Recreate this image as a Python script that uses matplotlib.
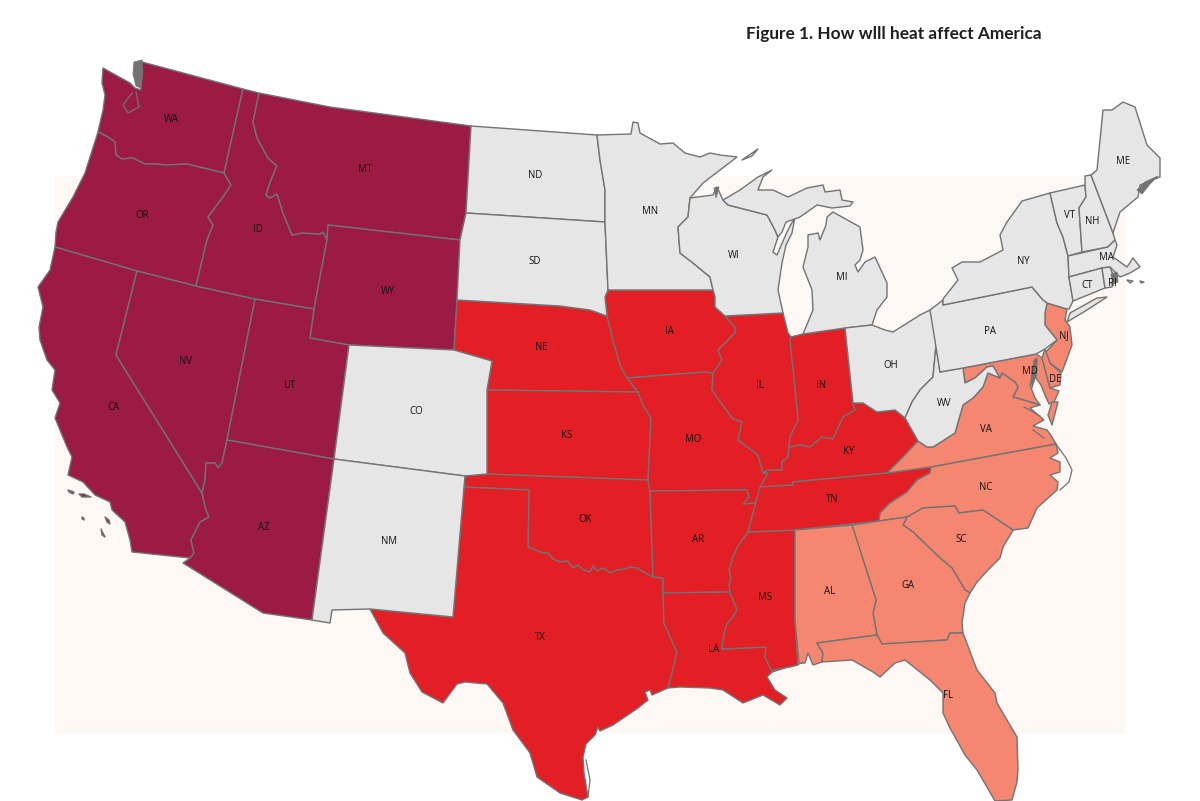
import matplotlib
matplotlib.use("Agg")
import matplotlib.pyplot as plt
from matplotlib.patches import Polygon, Rectangle

TITLE = "Figure 1. How wlll heat affect America"

# Heat impact groups
SEVERE = ["WA", "OR", "CA", "NV", "ID", "MT", "WY", "UT", "AZ"]
HIGH = ["NE", "KS", "OK", "TX", "IA", "MO", "AR", "LA", "MS", "IL", "IN", "KY", "TN"]
MODERATE = ["NJ", "MD", "DE", "VA", "NC", "SC", "GA", "AL", "FL"]
LOW = ["CO", "NM", "ND", "SD", "MN", "WI", "MI", "OH", "WV", "PA", "NY", "VT", "NH", "ME", "MA", "CT", "RI"]

# Borders shared by two states
RED_RIVER = [(528,547),(533,549),(543,553),(548,553),(553,559),(560,562),(567,561),(573,568),(578,565),(583,570),(590,572),(593,566),(597,571),(603,568),(610,573),(617,570),(625,569),(630,567),(637,568),(645,573),(653,577)]
MISS_AR_MS = [(748,532),(744,538),(742,540),(737,548),(733,557),(731,564),(729,570),(731,578),(729,585),(730,592)]
MISS_LA_MS = [(730,592),(733,600),(737,610),(733,617),(727,624),(725,630),(723,640),(722,649)]

# State outlines (map x, map y; one list per land part)
WA = [[(103,68),(102,83),(105,95),(103,110),(98,132),(108,137),(115,142),(116,155),(122,159),(133,158),(145,164),(155,164),(167,165),(187,164),(224,173),(243,89),(142,62),(139,72),(141,90),(135,88),(130,83)]]
OR = [[(98,132),(108,137),(115,142),(116,155),(122,159),(133,158),(145,164),(155,164),(167,165),(187,164),(224,173),(231,185),(223,197),(208,217),(213,225),(207,240),(196,286),(137,271),(55,247),(56,232),(58,222),(73,197),(85,173)]]
CA = [[(55,247),(137,271),(116,355),(202,493),(206,510),(209,517),(200,522),(191,540),(194,553),(190,558),(132,552),(130,540),(125,522),(112,510),(110,502),(95,495),(83,482),(68,475),(72,457),(67,447),(55,418),(60,403),(52,390),(55,370),(47,360),(40,340),(39,327),(43,307),(38,287),(50,270)],
      [(68,490),(74,492),(73,494),(69,492)],[(79,494),(84,494),(91,497),(82,497)],[(82,517),(84,518),(84,520),(82,519)],[(105,517),(109,520),(110,524),(107,522)],[(101,529),(104,535),(105,537),(102,535)]]
NV = [[(137,271),(196,286),(255,299),(227,440),(222,463),(218,468),(215,463),(206,463),(205,480),(202,493),(116,355)]]
ID = [[(243,89),(259,93),(253,122),(257,138),(268,158),(277,166),(271,180),(266,195),(270,198),(277,194),(283,213),(292,235),(302,233),(320,234),(323,232),(327,240),(314,309),(255,299),(196,286),(207,240),(213,225),(208,217),(223,197),(231,185),(224,173)]]
MT = [[(259,93),(330,107),(471,126),(466,213),(460,240),(328,225),(327,240),(323,232),(320,234),(302,233),(292,235),(283,213),(277,194),(270,198),(266,195),(271,180),(277,166),(268,158),(257,138),(253,122)]]
WY = [[(328,225),(460,240),(457,300),(454,350),(349,345),(310,338),(314,309),(327,240)]]
UT = [[(255,299),(314,309),(310,338),(349,345),(334,459),(227,440)]]
AZ = [[(227,440),(334,459),(312,620),(263,613),(183,563),(190,558),(194,553),(191,540),(200,522),(209,517),(206,510),(202,493),(205,480),(206,463),(215,463),(218,468),(222,463)]]
CO = [[(349,345),(454,350),(492,361),(487,390),(487,474),(465,476),(334,459)]]
NM = [[(334,459),(465,476),(464,487),(453,617),(370,609),(332,610),(330,623),(312,620)]]
ND = [[(471,126),(597,135),(600,160),(605,190),(605,222),(466,213)]]
SD = [[(466,213),(605,222),(608,290),(605,297),(607,316),(590,310),(560,306),(457,300),(460,240)]]
NE = [[(457,300),(560,306),(590,310),(607,316),(613,340),(620,365),(627,378),(638,392),(487,390),(492,361),(454,350)]]
KS = [[(487,390),(638,392),(643,405),(651,418),(648,480),(487,474)]]
OK = [[(465,476),(487,474),(648,480),(650,491),(653,577)] + RED_RIVER[::-1][1:] + [(529,490),(464,487)]]
TX = [[(464,487),(529,490)] + RED_RIVER + [(663,578),(663,593),(664,623),(670,637),(677,652),(672,673),(668,688),(652,695),(650,690),(645,692),(648,700),(638,708),(613,725),(600,731),(598,727),(595,735),(586,744),(583,757),(584,773),(588,797),(582,800),(560,793),(537,777),(530,753),(513,730),(503,703),(487,684),(465,682),(457,684),(443,703),(422,692),(410,673),(405,653),(383,633),(370,609),(453,617)]]
MN = [[(597,135),(631,134),(633,122),(638,123),(640,133),(660,144),(673,143),(685,153),(700,157),(710,153),(720,155),(737,157),(720,170),(703,183),(690,198),(688,217),(678,227),(680,253),(693,263),(710,277),(713,290),(608,290),(605,222),(605,190),(600,160)]]
IA = [[(608,290),(713,290),(715,297),(715,307),(725,316),(735,327),(735,333),(718,350),(722,360),(713,373),(705,372),(627,378),(620,365),(613,340),(607,316),(605,297)]]
MO = [[(627,378),(705,372),(713,373),(712,390),(732,418),(742,422),(738,440),(758,455),(763,473),(768,473),(760,490),(757,503),(743,504),(749,497),(747,490),(650,491),(648,480),(651,418),(643,405),(638,392)]]
AR = [[(650,491),(747,490),(749,497),(743,504),(757,503),(753,513)] + MISS_AR_MS + [(663,593),(663,578),(653,577)]]
LA = [[(663,593)] + MISS_LA_MS + [(766,647),(765,657),(772,672),(767,677),(775,690),(787,698),(780,705),(763,695),(743,703),(723,690),(710,688),(680,687),(668,688),(672,673),(677,652),(670,637),(664,623)]]
MS = [[(748,532),(795,530),(795,620),(798,665),(785,668),(772,672),(765,657),(766,647)] + MISS_LA_MS[::-1] + MISS_AR_MS[::-1][1:]]
WI = [[(690,198),(713,195),(717,187),(723,200),(728,205),(767,215),(775,230),(778,237),(773,252),(777,255),(787,232),(795,217),(792,233),(786,245),(782,263),(778,290),(783,313),(725,316),(715,307),(715,297),(713,290),(710,277),(693,263),(680,253),(678,227),(688,217)]]
IL = [[(725,316),(783,313),(788,333),(791,337),(790,340),(797,407),(798,420),(790,437),(789,447),(788,457),(782,462),(782,470),(768,470),(763,473),(758,455),(738,440),(742,422),(732,418),(712,390),(713,373),(722,360),(718,350),(735,333),(735,327)]]
IN = [[(791,337),(803,334),(845,328),(853,403),(855,410),(843,417),(833,439),(822,437),(810,447),(800,445),(789,447),(790,437),(798,420),(797,407),(790,340)]]
MI = [[(723,200),(740,190),(758,177),(772,170),(763,177),(758,190),(773,190),(788,197),(807,188),(823,185),(825,192),(840,190),(842,200),(853,202),(850,206),(832,208),(817,205),(800,217),(792,220),(786,222),(782,232),(778,237),(775,230),(767,215),(728,205)],
      [(833,212),(860,227),(863,250),(860,260),(855,265),(858,272),(865,262),(875,257),(887,283),(887,297),(877,310),(872,325),(845,328),(803,334),(813,310),(812,290),(803,267),(808,247),(808,235),(818,233),(820,240),(826,225),(827,217)],
      [(742,160),(758,149),(752,156)]]
OH = [[(845,328),(872,325),(885,330),(893,332),(920,315),(932,309),(936,345),(933,377),(920,390),(912,402),(905,418),(895,410),(877,412),(863,403),(853,403)]]
KY = [[(763,473),(768,470),(782,470),(782,462),(788,457),(789,447),(800,445),(810,447),(822,437),(833,439),(843,417),(855,410),(853,403),(863,403),(877,412),(895,410),(905,418),(918,441),(903,457),(887,473),(793,482),(793,485),(760,487),(768,473)]]
TN = [[(748,532),(753,513),(760,487),(793,485),(793,482),(887,473),(931,467),(930,473),(917,480),(907,492),(890,503),(880,513),(879,521),(795,530)]]
AL = [[(795,530),(852,525),(876,600),(873,613),(877,635),(817,643),(823,653),(822,662),(813,665),(808,653),(805,663),(799,663),(795,620)]]
GA = [[(852,525),(879,521),(907,517),(903,525),(913,532),(940,558),(952,568),(965,590),(970,593),(965,603),(962,623),(963,633),(950,633),(947,640),(882,644),(877,635),(873,613),(876,600)]]
FL = [[(877,635),(882,644),(947,640),(950,633),(963,633),(977,670),(995,693),(997,703),(1017,737),(1018,770),(1017,782),(1012,800),(995,801),(977,770),(965,755),(950,728),(943,713),(943,693),(930,680),(905,660),(895,663),(880,677),(873,672),(852,660),(822,662),(823,653),(817,643)]]
SC = [[(907,517),(923,508),(955,506),(959,513),(983,510),(1013,530),(1012,532),(1003,547),(1000,558),(988,570),(977,582),(970,593),(965,590),(952,568),(940,558),(913,532),(903,525)]]
NC = [[(931,467),(1056,444),(1058,453),(1050,458),(1060,462),(1060,472),(1050,475),(1058,482),(1057,490),(1037,508),(1028,528),(1013,530),(983,510),(959,513),(955,506),(923,508),(907,517),(879,521),(880,513),(890,503),(907,492),(917,480),(930,473)]]
VA = [[(887,473),(903,457),(918,441),(927,447),(933,447),(955,433),(963,405),(973,398),(983,387),(988,373),(1000,378),(1002,373),(1015,382),(1018,387),(1013,397),(1030,402),(1040,405),(1030,408),(1044,420),(1033,426),(1047,430),(1052,437),(1056,444),(931,467)],
      [(1052,402),(1058,402),(1052,425),(1048,415)]]
WV = [[(935,315),(936,345),(940,372),(963,368),(965,383),(975,378),(987,367),(993,366),(1000,378),(988,373),(983,387),(973,398),(963,405),(955,433),(933,447),(927,447),(918,441),(905,418),(912,402),(920,390),(933,377),(936,345)]]
MD = [[(963,368),(1036,354),(1042,358),(1050,388),(1059,391),(1054,402),(1049,404),(1045,395),(1041,385),(1036,378),(1037,360),(1033,375),(1030,385),(1035,398),(1040,405),(1030,402),(1013,397),(1018,387),(1015,382),(1002,373),(1000,378),(993,366),(987,367),(975,378),(965,383)]]
DE = [[(1045,349),(1050,363),(1061,373),(1060,385),(1050,388),(1042,358)]]
PA = [[(930,310),(943,300),(943,305),(1032,287),(1043,300),(1047,303),(1045,313),(1045,325),(1057,340),(1045,349),(1036,354),(963,368),(940,372)]]
NJ = [[(1047,303),(1067,309),(1065,320),(1070,327),(1072,345),(1062,372),(1050,363),(1045,353),(1057,340),(1045,325),(1045,313)]]
NY = [[(943,305),(943,299),(958,280),(952,268),(962,262),(980,262),(1003,250),(1000,235),(1007,222),(1022,201),(1050,193),(1057,223),(1063,237),(1068,256),(1069,277),(1073,301),(1069,309),(1067,309),(1047,303),(1043,300),(1032,287)],
      [(1070,313),(1097,298),(1107,297),(1087,310),(1067,322)]]
VT = [[(1050,193),(1085,185),(1086,197),(1079,208),(1082,252),(1068,256),(1063,237),(1057,223)]]
NH = [[(1085,176),(1091,175),(1113,233),(1115,240),(1108,247),(1082,252),(1079,208),(1086,197),(1085,185)]]
ME = [[(1091,175),(1097,170),(1100,140),(1103,110),(1112,110),(1123,102),(1135,107),(1147,145),(1160,158),(1160,177),(1140,185),(1138,197),(1120,212),(1113,233)]]
MA = [[(1068,256),(1108,247),(1115,240),(1117,245),(1113,257),(1127,267),(1133,258),(1140,267),(1130,273),(1120,277),(1110,267),(1102,268),(1069,277)],
      [(1127,280),(1133,281),(1130,283)],[(1140,281),(1144,282),(1141,283)]]
CT = [[(1069,277),(1102,268),(1105,288),(1073,301)]]
RI = [[(1102,268),(1110,267),(1113,275),(1112,287),(1105,288)]]

# Dense coastal clutter (islands and inlets) that reads as solid outline colour
CLUTTER = [[(134,62),(142,60),(143,72),(141,88),(136,86),(133,74)],
           [(1137,190),(1145,182),(1158,176),(1150,184),(1142,194)],
           [(1111,274),(1117,272),(1118,282),(1113,284)],
           [(1034,360),(1037,358),(1036,376),(1032,388),(1031,378)],
           [(714,188),(719,187),(716,198)]]
# Thin outline-only details: Hood Canal loop, barrier islands and sounds
THIN_LINES = [[(136,92),(139,107),(128,113),(123,105),(132,93)],
              [(1056,444),(1066,458),(1072,470),(1069,482),(1060,490)],
              [(586,760),(590,780),(588,797)],
              [(802,663),(790,667)],[(782,668),(772,670)],
              [(1033,430),(1044,438)],[(1024,407),(1040,416)]]

# Label anchors
LABELS = {"WA":(171,119),"OR":(142,215),"CA":(113,408),"NV":(186,362),"ID":(258,230),"MT":(365,170),"WY":(388,291),"UT":(289,385),"AZ":(264,527),"CO":(416,411),"NM":(389,541),"ND":(535,175),"SD":(535,262),"NE":(541,347),"KS":(567,436),"OK":(585,520),"TX":(540,638),"MN":(650,211),"IA":(669,331),"MO":(693,439),"AR":(698,539),"LA":(714,649),"WI":(734,255),"IL":(760,386),"MS":(765,597),"MI":(842,278),"IN":(821,385),"KY":(849,451),"TN":(832,500),"AL":(830,591),"GA":(908,585),"FL":(948,696),"SC":(961,540),"NC":(986,487),"VA":(986,430),"WV":(944,404),"OH":(891,365),"PA":(990,331),"NY":(1023,262),"NJ":(1064,336),"MD":(1030,371),"DE":(1055,380),"ME":(1123,162),"VT":(1069,216),"NH":(1092,221),"MA":(1106,257),"CT":(1087,285),"RI":(1112,284)}

COLORS = [(SEVERE, "#9b1b45"), (HIGH, "#e31e25"), (MODERATE, "#f58670"), (LOW, "#e6e6e6")]
SHAPES = dict(WA=WA,OR=OR,CA=CA,NV=NV,ID=ID,MT=MT,WY=WY,UT=UT,AZ=AZ,CO=CO,NM=NM,ND=ND,SD=SD,NE=NE,KS=KS,OK=OK,TX=TX,MN=MN,IA=IA,MO=MO,AR=AR,LA=LA,MS=MS,WI=WI,IL=IL,IN=IN,MI=MI,OH=OH,KY=KY,TN=TN,AL=AL,GA=GA,FL=FL,SC=SC,NC=NC,VA=VA,WV=WV,MD=MD,DE=DE,PA=PA,NJ=NJ,NY=NY,VT=VT,NH=NH,ME=ME,MA=MA,CT=CT,RI=RI)
EDGE = "#737373"

fig = plt.figure(figsize=(12, 8.01), dpi=100, facecolor="white")
ax = fig.add_axes([0, 0, 1, 1])
ax.set_xlim(0, 1200)
ax.set_ylim(801, 0)
ax.axis("off")

ax.add_patch(Rectangle((55, 176), 1070, 558, facecolor="#fef8f5", edgecolor="none", zorder=0))

for states, color in COLORS:
    for st in states:
        for part in SHAPES[st]:
            ax.add_patch(Polygon(part, closed=True, facecolor=color, edgecolor=EDGE,
                                 linewidth=1.0, joinstyle="round", zorder=2))

for part in CLUTTER:
    ax.add_patch(Polygon(part, closed=True, facecolor=EDGE, edgecolor=EDGE, linewidth=0.6, zorder=2.5))
for line in THIN_LINES:
    ax.plot([p[0] for p in line], [p[1] for p in line], color=EDGE, linewidth=0.9, zorder=2.5)

for st, (x, y) in LABELS.items():
    ax.text(x, y, st, fontsize=6.9, family="Open Sans", color="#111111", ha="center", va="center", zorder=3)

ax.text(894, 34, TITLE, fontsize=12.4, family="Lato", fontweight="bold", color="#1f1f1f",
        ha="center", va="center", zorder=3)

fig.savefig("out.png", dpi=100)
